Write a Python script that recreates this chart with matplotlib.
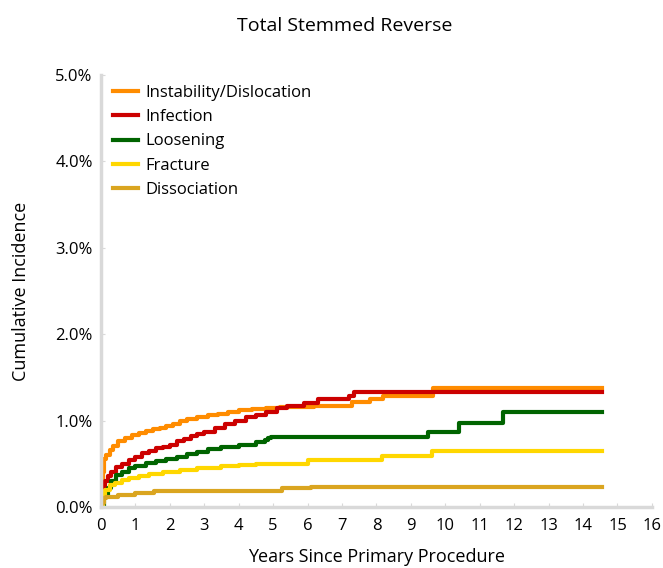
import matplotlib
matplotlib.use("Agg")
import matplotlib.pyplot as plt
from matplotlib.ticker import FuncFormatter

plt.rcParams['font.family'] = ['Open Sans', 'DejaVu Sans']

# years since primary procedure / cumulative incidence (%)
instab_x = [0, 0.03, 0.06, 0.1, 0.15, 0.25, 0.35, 0.5, 0.7, 0.9, 1.1, 1.3, 1.5, 1.7, 1.9, 2.1, 2.3, 2.5,
            2.8, 3.1, 3.4, 3.7, 4.0, 4.4, 4.8, 5.2, 6.2, 7.3, 7.8, 8.2, 9.65, 14.55]
instab_y = [0, 0.2, 0.4, 0.55, 0.6, 0.66, 0.71, 0.76, 0.8, 0.83, 0.86, 0.88, 0.9, 0.92, 0.94, 0.96, 0.99, 1.02,
            1.04, 1.06, 1.08, 1.1, 1.12, 1.13, 1.15, 1.16, 1.17, 1.22, 1.25, 1.28, 1.38, 1.38]

infect_x = [0, 0.05, 0.12, 0.2, 0.3, 0.45, 0.6, 0.8, 1.0, 1.2, 1.4, 1.6, 1.8, 2.0, 2.2, 2.4, 2.6, 2.8, 3.0,
            3.3, 3.6, 3.9, 4.2, 4.5, 4.8, 5.1, 5.4, 5.9, 6.3, 7.2, 7.35, 14.55]
infect_y = [0, 0.15, 0.3, 0.36, 0.41, 0.46, 0.5, 0.54, 0.58, 0.62, 0.65, 0.68, 0.7, 0.72, 0.76, 0.79, 0.82, 0.85, 0.87,
            0.92, 0.96, 1.0, 1.04, 1.07, 1.1, 1.14, 1.17, 1.2, 1.25, 1.28, 1.33, 1.33]

loosen_x = [0, 0.1, 0.2, 0.3, 0.45, 0.6, 0.8, 1.0, 1.3, 1.6, 1.9, 2.2, 2.5, 2.8, 3.1, 3.5, 4.0, 4.5, 4.75,
            4.85, 4.95, 9.5, 10.4, 11.67, 14.55]
loosen_y = [0, 0.12, 0.22, 0.3, 0.37, 0.41, 0.45, 0.48, 0.51, 0.53, 0.55, 0.58, 0.61, 0.64, 0.67, 0.69, 0.72, 0.75, 0.77,
            0.8, 0.81, 0.87, 0.97, 1.1, 1.1]

fract_x = [0, 0.06, 0.12, 0.25, 0.4, 0.6, 0.8, 1.1, 1.4, 1.8, 2.3, 2.8, 3.5, 4.0, 4.5, 6.0, 8.15, 9.6, 14.55]
fract_y = [0, 0.12, 0.2, 0.25, 0.28, 0.31, 0.34, 0.36, 0.38, 0.41, 0.43, 0.45, 0.47, 0.49, 0.5, 0.54, 0.59, 0.65, 0.65]

dissoc_x = [0, 0.03, 0.08, 0.15, 0.5, 1.0, 1.55, 2.5, 5.25, 6.1, 14.55]
dissoc_y = [0, 0.05, 0.1, 0.12, 0.14, 0.16, 0.18, 0.19, 0.215, 0.23, 0.23]

series = [
    ('Instability/Dislocation', instab_x, instab_y, '#ff8c00'),
    ('Infection', infect_x, infect_y, '#cc0000'),
    ('Loosening', loosen_x, loosen_y, '#006400'),
    ('Fracture', fract_x, fract_y, '#ffd700'),
    ('Dissociation', dissoc_x, dissoc_y, '#daa520'),
]

fig = plt.figure(figsize=(6.63, 5.68), dpi=100)
ax = fig.add_axes([0.1523, 0.1074, 0.831, 0.7606])

for name, xs, ys, col in series:
    ax.step(xs, ys, where='post', color=col, lw=3, label=name)

ax.set_xlim(0, 16)
ax.set_ylim(0, 5)
ax.set_xticks(range(0, 17))
ax.set_yticks([0, 1, 2, 3, 4, 5])
ax.yaxis.set_major_formatter(FuncFormatter(lambda v, p: f'{v:.1f}%'))

for s in ['top', 'right']:
    ax.spines[s].set_visible(False)
for s in ['left', 'bottom']:
    ax.spines[s].set_color('#d9d9d9')
    ax.spines[s].set_linewidth(2.5)
ax.tick_params(axis='x', direction='in', length=3, color='#d9d9d9', labelsize=12, pad=8)
ax.tick_params(axis='y', direction='in', length=3, color='#d9d9d9', labelsize=12, pad=6)

ax.set_xlabel('Years Since Primary Procedure', fontsize=13, labelpad=10)
ax.set_ylabel('Cumulative Incidence', fontsize=13, labelpad=18)
fig.suptitle('Total Stemmed Reverse', fontsize=14, y=0.97, x=0.52)

ax.legend(loc='upper left', bbox_to_anchor=(-0.005, 1.012),
          frameon=False, fontsize=12, handlelength=1.5, handletextpad=0.45,
          labelspacing=0.5)

fig.savefig('out.png', dpi=100)
